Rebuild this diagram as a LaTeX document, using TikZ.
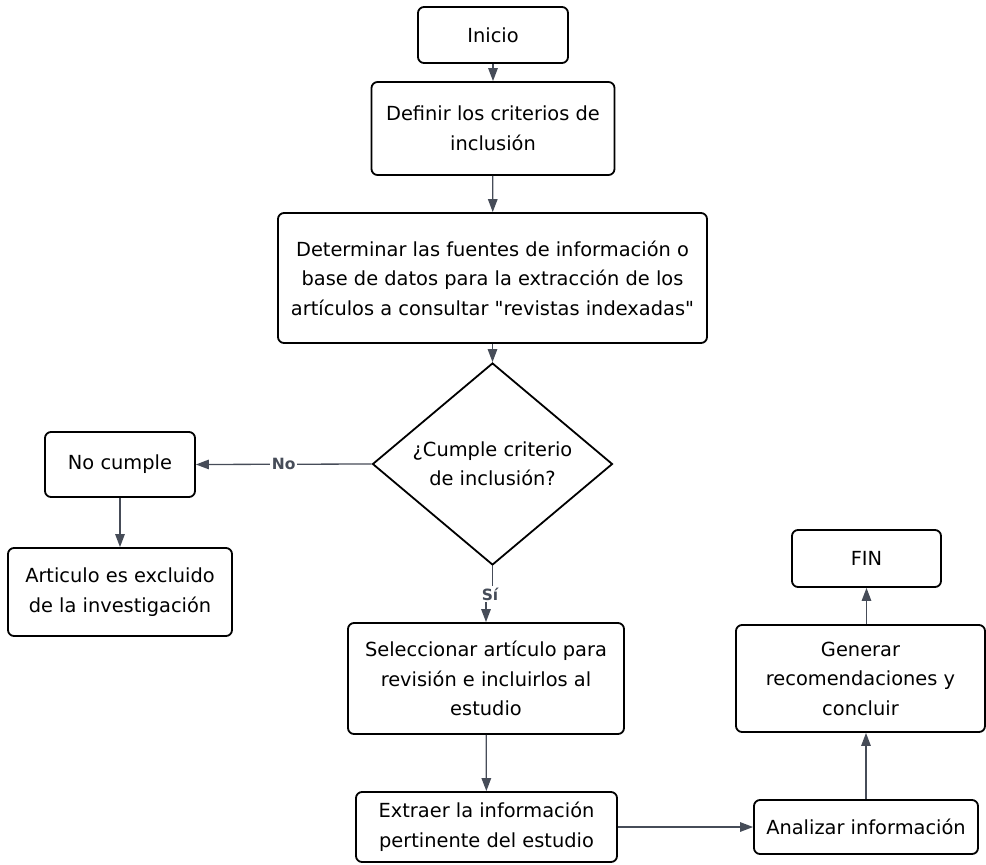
\documentclass[tikz,border=0pt]{standalone}
\usepackage{fontspec}
\setmainfont{DejaVu Sans}[Ligatures=TeXOff]
\usetikzlibrary{shapes.geometric,arrows.meta}
\definecolor{edgecol}{RGB}{70,76,88}
\tikzset{
  box/.style={draw=black, line width=1.8pt, rounded corners=6pt, fill=white, align=center, inner sep=2pt,
    font=\fontsize{19.4}{29.5}\selectfont},
  dec/.style={draw=black, line width=1.8pt, diamond, aspect=1.19, inner sep=0pt, align=center,
    minimum width=240pt, minimum height=202pt, font=\fontsize{19.4}{29.5}\selectfont},
  line/.style={draw=edgecol, line width=1.3pt},
  conn/.style={line, -{Triangle[length=13pt,width=9.5pt]}},
  lbl/.style={fill=white, text=edgecol, font=\fontsize{15.5}{17}\selectfont\bfseries, inner sep=1.5pt}
}
\begin{document}
\begin{tikzpicture}[x=1pt,y=-1pt]
\useasboundingbox (0,0) rectangle (986,865);
\node[box, minimum width=150pt, minimum height=56pt] (ini) at (493,35) {Inicio};
\node[box, minimum width=243pt, minimum height=93pt] (def) at (493,128.5) {Definir los criterios de\\inclusión};
\node[box, minimum width=429pt, minimum height=130pt] (det) at (492.5,278) {Determinar las fuentes de información o\\base de datos para la extracción de los\\artículos a consultar "revistas indexadas"};
\node[dec] (cum) at (492.5,464) {¿Cumple criterio\\de inclusión?};
\node[box, minimum width=150pt, minimum height=65pt] (noc) at (120,464.5) {No cumple};
\node[box, minimum width=224pt, minimum height=88pt] (exc) at (120,592) {Articulo es excluido\\de la investigación};
\node[box, minimum width=276pt, minimum height=111pt] (sel) at (486,678.5) {Seleccionar artículo para\\revisión e incluirlos al\\estudio};
\node[box, minimum width=261pt, minimum height=70pt] (ext) at (486.5,827) {Extraer la información\\pertinente del estudio};
\node[box, minimum width=224pt, minimum height=54pt] (ana) at (866,827) {Analizar información};
\node[box, minimum width=249pt, minimum height=107pt] (gen) at (860.5,678.5) {Generar\\recomendaciones y\\concluir};
\node[box, minimum width=149pt, minimum height=57pt] (fin) at (866.5,558.5) {FIN};

\draw[conn] (ini) -- (def);
\draw[conn] (def) -- (det);
\draw[conn] (det) -- (cum);
\draw[conn] (cum.west) -- node[lbl] {No} (noc.east);
\draw[conn] (noc) -- (exc);
\coordinate (sibend) at (492.5,594);
\draw[line] (cum.south) -- (sibend);
\draw[conn] (sel.north |- sibend) -- (sel.north);
\node[lbl] (si) at (490,594) {Sí};
\draw[conn] (sel) -- (ext);
\draw[conn] (ext.east) -- (ana.west);
\draw[conn] (ana.north) -- (ana.north |- gen.south);
\draw[conn] (fin.south |- gen.north) -- (fin.south);
\end{tikzpicture}
\end{document}
